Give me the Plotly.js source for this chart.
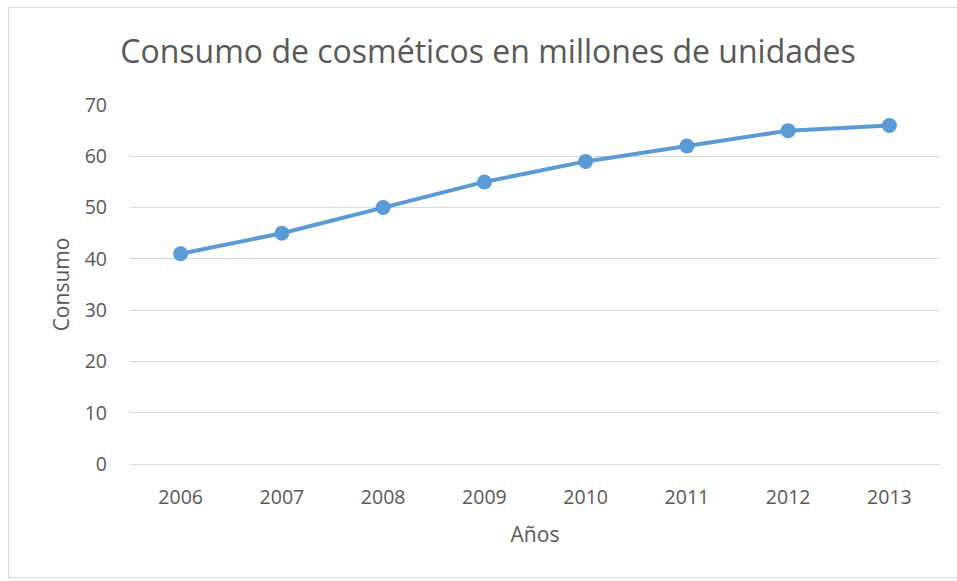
<!DOCTYPE html>
<html>
<head>
<meta charset="utf-8">
<script src="https://cdn.plot.ly/plotly-3.0.1.min.js"></script>
<style>
  html, body { margin: 0; padding: 0; background: #ffffff; overflow: hidden; }
  #frame { position: absolute; left: 8px; top: 7px; width: 980px; height: 571px; border: 1px solid #d9d9d9; box-sizing: border-box; }
  #chart { position: absolute; left: 0; top: 0; width: 957px; height: 581px; }
</style>
</head>
<body>
<div id="frame"></div>
<div id="chart"></div>
<script>
const years = ['2006', '2007', '2008', '2009', '2010', '2011', '2012', '2013'];
const consumo = [41, 45, 50, 55, 59, 62, 65, 66];
const yTicks = [0, 10, 20, 30, 40, 50, 60, 70];

const textColor = '#595959';
const fontFam = '"Open Sans", "Noto Sans", sans-serif';

Plotly.newPlot('chart', [{
  x: years,
  y: consumo,
  type: 'scatter',
  mode: 'lines+markers',
  line: { color: '#5B9BD5', width: 4 },
  marker: { color: '#5B9BD5', size: 15 },
  hoverinfo: 'x+y'
}], {
  width: 957,
  height: 581,
  paper_bgcolor: 'rgba(0,0,0,0)',
  plot_bgcolor: 'rgba(0,0,0,0)',
  margin: { l: 130, r: 17, t: 105, b: 117 },
  showlegend: false,
  title: {
    text: 'Consumo de cosméticos en millones de unidades',
    font: { family: fontFam, size: 32, color: textColor },
    x: 0.51, xref: 'container', xanchor: 'center',
    y: 0.91, yref: 'container', yanchor: 'middle'
  },
  xaxis: {
    type: 'category',
    range: [-0.5, 7.5],
    showgrid: false,
    showline: false,
    zeroline: false,
    ticks: '',
    ticklabelstandoff: 19,
    tickfont: { family: fontFam, size: 19.5, color: textColor },
    title: { text: 'Años', font: { family: fontFam, size: 21, color: textColor }, standoff: 18 }
  },
  yaxis: {
    range: [0, 70],
    tickvals: yTicks,
    ticktext: yTicks.map(String),
    showgrid: true,
    gridcolor: '#d9d9d9',
    gridwidth: 1,
    zeroline: true,
    zerolinecolor: '#d9d9d9',
    zerolinewidth: 1,
    showline: false,
    ticks: '',
    ticklabelstandoff: 22,
    tickfont: { family: fontFam, size: 19.5, color: textColor },
    title: { text: 'Consumo', font: { family: fontFam, size: 21, color: textColor }, standoff: 9 }
  }
}, { displayModeBar: false, staticPlot: true });
</script>
</body>
</html>
